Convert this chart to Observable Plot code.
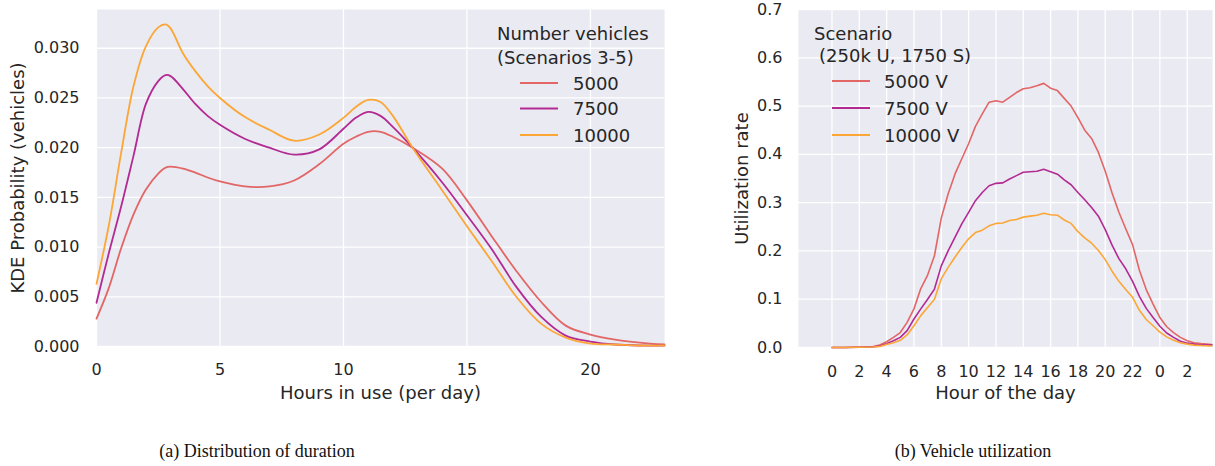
<!DOCTYPE html>
<html>
<head>
<meta charset="utf-8">
<script src="https://cdn.jsdelivr.net/npm/d3@7"></script>
<script src="https://cdn.jsdelivr.net/npm/@observablehq/plot@0.6"></script>
<style>
  body { margin: 0; background: #ffffff; }
  #wrap { position: relative; width: 1215px; height: 466px; overflow: hidden; font-family: "DejaVu Sans", sans-serif; color: #262626; }
  .panel { position: absolute; top: 0; }
  .cap { position: absolute; font-family: "Liberation Serif", serif; font-size: 18px; color: #111; white-space: nowrap; transform: translate(-50%, -50%); }
  #overlay { position: absolute; left: 0; top: 0; pointer-events: none; }
</style>
</head>
<body>
<div id="wrap"></div>
<script>
// ---------- (a) KDE of hours in use per day ----------
const kdeSeries = ["5000", "7500", "10000"];
const kdeHours = [0, 0.5, 1, 1.5, 2, 2.5, 2.8, 3, 3.5, 4, 4.5, 5, 6, 7, 8, 9, 10, 10.5, 11, 11.5, 12, 12.8, 14, 15, 16, 17, 18, 19, 20, 21, 22, 23];
const kde5000  = [0.0028, 0.0059, 0.0099, 0.0133, 0.0158, 0.0174, 0.0180, 0.0181, 0.0179, 0.0175, 0.0170, 0.0166, 0.0161, 0.0161, 0.0167, 0.0183, 0.0204, 0.0211, 0.0216, 0.0216, 0.0211, 0.0200, 0.0179, 0.0147, 0.0111, 0.0076, 0.0045, 0.0021, 0.0012, 0.0007, 0.0004, 0.0002];
const kde7500  = [0.0044, 0.0094, 0.0141, 0.0192, 0.0244, 0.0267, 0.0273, 0.0272, 0.0259, 0.0244, 0.0232, 0.0223, 0.0209, 0.0200, 0.0193, 0.0198, 0.0219, 0.0230, 0.0236, 0.0232, 0.0221, 0.0200, 0.0165, 0.0132, 0.0098, 0.0060, 0.0030, 0.0011, 0.0005, 0.0002, 0.0001, 0.0001];
const kde10000 = [0.0063, 0.0122, 0.0195, 0.0262, 0.0302, 0.0321, 0.0324, 0.0320, 0.0295, 0.0277, 0.0262, 0.0250, 0.0231, 0.0218, 0.0207, 0.0213, 0.0230, 0.0241, 0.0248, 0.0246, 0.0232, 0.0200, 0.0157, 0.0121, 0.0086, 0.0050, 0.0023, 0.0009, 0.0003, 0.0002, 0.0001, 0.0001];
const kdeXTicks = [0, 5, 10, 15, 20];
const kdeYTicks = [0, 0.005, 0.010, 0.015, 0.020, 0.025, 0.030];

// ---------- (b) utilization by hour of day ----------
const utilSeries = ["5000 V", "7500 V", "10000 V"];
const utilHours = [0, 1, 2, 3, 3.5, 4, 4.5, 5, 5.5, 6, 6.5, 7, 7.5, 8, 8.5, 9, 9.5, 10, 10.5, 11, 11.5, 12, 12.5, 13, 13.5, 14, 14.5, 15, 15.5, 16, 16.5, 17, 17.5, 18, 18.5, 19, 19.5, 20, 20.5, 21, 21.5, 22, 22.5, 23, 23.5, 24, 24.5, 25, 25.5, 26, 26.5, 27, 27.8];
const util5000  = [0, 0, 0.001, 0.002, 0.005, 0.012, 0.021, 0.031, 0.052, 0.080, 0.122, 0.150, 0.190, 0.268, 0.318, 0.359, 0.391, 0.422, 0.458, 0.484, 0.508, 0.511, 0.508, 0.518, 0.528, 0.536, 0.538, 0.542, 0.547, 0.537, 0.532, 0.516, 0.500, 0.476, 0.450, 0.433, 0.404, 0.365, 0.320, 0.280, 0.246, 0.213, 0.160, 0.120, 0.090, 0.062, 0.043, 0.031, 0.021, 0.014, 0.010, 0.008, 0.006];
const util7500  = [0, 0, 0.0005, 0.001, 0.003, 0.008, 0.014, 0.021, 0.035, 0.059, 0.080, 0.100, 0.121, 0.169, 0.200, 0.228, 0.256, 0.280, 0.304, 0.321, 0.335, 0.340, 0.341, 0.349, 0.356, 0.363, 0.364, 0.365, 0.369, 0.364, 0.359, 0.347, 0.337, 0.321, 0.306, 0.290, 0.272, 0.244, 0.212, 0.184, 0.163, 0.137, 0.106, 0.081, 0.062, 0.044, 0.030, 0.021, 0.013, 0.009, 0.007, 0.005, 0.005];
const util10000 = [0, 0, 0.0005, 0.001, 0.002, 0.006, 0.010, 0.015, 0.026, 0.045, 0.066, 0.083, 0.100, 0.142, 0.166, 0.187, 0.207, 0.225, 0.238, 0.243, 0.252, 0.257, 0.258, 0.263, 0.265, 0.270, 0.272, 0.274, 0.278, 0.275, 0.274, 0.264, 0.257, 0.240, 0.227, 0.216, 0.201, 0.182, 0.158, 0.137, 0.120, 0.104, 0.077, 0.058, 0.045, 0.032, 0.022, 0.015, 0.010, 0.007, 0.005, 0.004, 0.003];
const utilXTicks = [0, 2, 4, 6, 8, 10, 12, 14, 16, 18, 20, 22, 24, 26];
const utilYTicks = [0, 0.1, 0.2, 0.3, 0.4, 0.5, 0.6, 0.7];

const palette = ["#e26666", "#b22a92", "#fca636"];

// build tables
const kdeRows = [];
[kde5000, kde7500, kde10000].forEach((arr, k) =>
  arr.forEach((v, i) => kdeRows.push({h: kdeHours[i], v, s: kdeSeries[k]})));
const utilRows = [];
[util5000, util7500, util10000].forEach((arr, k) =>
  arr.forEach((v, i) => utilRows.push({h: utilHours[i], v, s: utilSeries[k]})));

const bg = "#eaeaf2";
const gridStyle = {stroke: "#ffffff", strokeOpacity: 1, strokeWidth: 1.3};
const baseStyle = {fontFamily: "DejaVu Sans", fontSize: "16px", color: "#262626", background: "transparent", overflow: "visible"};

const left = Plot.plot({
  width: 700, height: 420,
  marginLeft: 96, marginRight: 36, marginTop: 9, marginBottom: 74,
  style: baseStyle,
  x: {domain: [0, 23]},
  y: {domain: [0, 0.0339]},
  color: {domain: kdeSeries, range: palette},
  marks: [
    Plot.frame({fill: bg, stroke: "none"}),
    Plot.gridX({ticks: kdeXTicks, ...gridStyle}),
    Plot.gridY({ticks: kdeYTicks, ...gridStyle}),
    Plot.axisX({ticks: kdeXTicks, tickSize: 0, tickPadding: 17, label: null, fontSize: 16}),
    Plot.axisY({ticks: kdeYTicks, tickSize: 0, tickPadding: 17, tickFormat: d3.format(".3f"), label: null, fontSize: 16}),
    Plot.line(kdeRows, {x: "h", y: "v", z: "s", stroke: "s", strokeWidth: 1.8, curve: "catmull-rom"}),
    Plot.text(["Hours in use (per day)"], {text: d => d, frameAnchor: "bottom", dy: 52, fontSize: 18}),
    Plot.text(["KDE Probability (vehicles)"], {text: d => d, frameAnchor: "left", textAnchor: "middle", dx: -78, rotate: -90, fontSize: 18})
  ]
});
left.classList.add("panel");
left.style.left = "0px";

const right = Plot.plot({
  width: 515, height: 420,
  marginLeft: 98, marginRight: 3, marginTop: 9, marginBottom: 73,
  style: baseStyle,
  x: {domain: [-2.45, 27.85]},
  y: {domain: [0, 0.7]},
  color: {domain: utilSeries, range: palette},
  marks: [
    Plot.frame({fill: bg, stroke: "none"}),
    Plot.gridX({ticks: utilXTicks, ...gridStyle}),
    Plot.gridY({ticks: utilYTicks, ...gridStyle}),
    Plot.axisX({ticks: utilXTicks, tickSize: 0, tickPadding: 18, tickFormat: d => String(d % 24), label: null, fontSize: 16}),
    Plot.axisY({ticks: utilYTicks, tickSize: 0, tickPadding: 16, tickFormat: d3.format(".1f"), label: null, fontSize: 16}),
    Plot.line(utilRows, {x: "h", y: "v", z: "s", stroke: "s", strokeWidth: 1.6}),
    Plot.text(["Hour of the day"], {text: d => d, frameAnchor: "bottom", dy: 51, fontSize: 18}),
    Plot.text(["Utilization rate"], {text: d => d, frameAnchor: "left", textAnchor: "middle", dx: -56, rotate: -90, fontSize: 18})
  ]
});
right.classList.add("panel");
right.style.left = "700px";

const wrap = document.getElementById("wrap");
wrap.appendChild(left);
wrap.appendChild(right);

// legends (overlay)
const ov = d3.select(wrap).append("svg").attr("id", "overlay")
  .attr("width", 1215).attr("height", 466)
  .style("font-family", "DejaVu Sans").style("font-size", "18px").style("fill", "#262626");

function legend(titleLines, labels, sx0, sx1, lx, ys) {
  titleLines.forEach(t => ov.append("text").attr("x", t.x).attr("y", t.y)
    .attr("dominant-baseline", "central").text(t.text));
  labels.forEach((lab, i) => {
    ov.append("line").attr("x1", sx0).attr("x2", sx1).attr("y1", ys[i]).attr("y2", ys[i])
      .attr("stroke", palette[i]).attr("stroke-width", 1.8);
    ov.append("text").attr("x", lx).attr("y", ys[i]).attr("dominant-baseline", "central").text(lab);
  });
}
legend([{text: "Number vehicles", x: 497, y: 33}, {text: "(Scenarios 3-5)", x: 497, y: 57}],
  kdeSeries, 520, 558, 573, [83, 108.5, 135]);
legend([{text: "Scenario", x: 814, y: 33}, {text: "(250k U, 1750 S)", x: 819, y: 55}],
  utilSeries, 832, 870, 884, [81, 108, 135]);

// captions
const c1 = document.createElement("div");
c1.className = "cap"; c1.style.left = "257px"; c1.style.top = "451px";
c1.textContent = "(a) Distribution of duration";
const c2 = document.createElement("div");
c2.className = "cap"; c2.style.left = "973px"; c2.style.top = "451px";
c2.textContent = "(b) Vehicle utilization";
wrap.appendChild(c1); wrap.appendChild(c2);
</script>
